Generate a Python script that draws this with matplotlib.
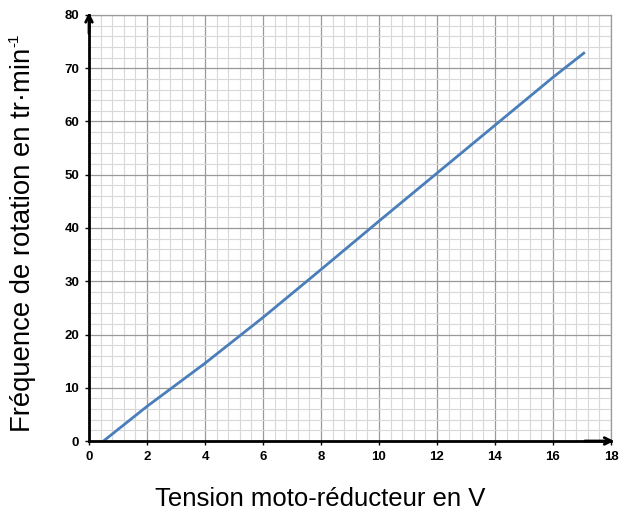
import matplotlib
matplotlib.use("Agg")
import matplotlib.pyplot as plt
from matplotlib.ticker import MultipleLocator
import numpy as np

tension = [0.5, 2, 4, 6, 8, 10, 12, 14, 16, 17.1]
frequence = [0, 6.5, 14.6, 23.2, 32.2, 41.3, 50.3, 59.3, 68.3, 73]
x_ticks = [0, 2, 4, 6, 8, 10, 12, 14, 16, 18]
y_ticks = [0, 10, 20, 30, 40, 50, 60, 70, 80]

plt.rcParams['font.family'] = ['Liberation Sans', 'DejaVu Sans']
plt.rcParams['mathtext.fontset'] = 'custom'
plt.rcParams['mathtext.rm'] = 'Liberation Sans'

fig = plt.figure(figsize=(6.23, 5.16), dpi=100)
ax = fig.add_axes([89/623, 1-441/516, (611-89)/623, (441-15)/516])

ax.plot(tension, frequence, color='#4A7EBB', lw=2.0, zorder=5, solid_capstyle='butt',
        solid_joinstyle='round')

ax.set_xlim(0, 18)
ax.set_ylim(0, 80)
ax.set_xticks(x_ticks)
ax.set_yticks(y_ticks)
ax.xaxis.set_minor_locator(MultipleLocator(0.4))
ax.yaxis.set_minor_locator(MultipleLocator(2))
ax.grid(which='minor', color='#d8d8d8', lw=0.8, zorder=0)
ax.grid(which='major', color='#999999', lw=0.9, zorder=1)
ax.set_axisbelow(True)

for s in ['top', 'right']:
    ax.spines[s].set_color('#999999')
    ax.spines[s].set_linewidth(0.9)
for s in ['left', 'bottom']:
    ax.spines[s].set_color('black')
    ax.spines[s].set_linewidth(2)
    ax.spines[s].set_zorder(6)

ax.tick_params(which='minor', length=0)
ax.tick_params(which='major', length=3, width=1, direction='out', color='black', pad=4)
for lab in ax.get_xticklabels() + ax.get_yticklabels():
    lab.set_fontweight('bold')
    lab.set_fontsize(9.5)

# arrows
ax.annotate('', xy=(0, 81), xytext=(0, 76), xycoords='data',
            arrowprops=dict(arrowstyle='->', color='black', lw=2, mutation_scale=12),
            annotation_clip=False, zorder=7)
ax.annotate('', xy=(18.2, 0), xytext=(17, 0), xycoords='data',
            arrowprops=dict(arrowstyle='->', color='black', lw=2, mutation_scale=12),
            annotation_clip=False, zorder=7)

fig.text(320/623, 1-499/516, 'Tension moto-réducteur en V', fontsize=18.5,
         ha='center', va='center')
fig.text(23/623, 1-240/516, 'Fréquence de rotation en tr·min', fontsize=19.8,
         rotation=90, ha='center', va='center')
fig.text(14/623, 1-40/516, '-1', fontsize=11, rotation=90, ha='center', va='center')

fig.savefig('out.png', dpi=100)
